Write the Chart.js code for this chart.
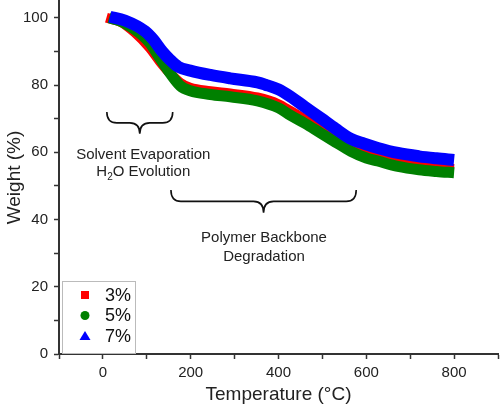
<!DOCTYPE html>
<html>
<head>
<meta charset="utf-8">
<script src="https://cdn.jsdelivr.net/npm/chart.js@4"></script>
<style>
  html, body { margin: 0; padding: 0; background: #fff; }
  #wrap { width: 500px; height: 411px; }
</style>
</head>
<body>
<div id="wrap"><canvas id="tgaChart" width="500" height="411"></canvas></div>
<script>
// TGA curves (temperature in °C, weight in %)
const seriesNames = ["3%", "5%", "7%"];
const seriesColors = ["#ff0000", "#008000", "#0000ff"];

const temp3 = [8, 40, 73, 107, 130, 153, 176, 199, 245, 290, 352, 400, 427, 460, 496, 530, 565, 600, 626, 672, 720, 760, 800];
const weight3 = [100, 98.8, 95.6, 91, 87, 83.5, 80.7, 79.2, 78.2, 77.5, 76.3, 74.3, 72.3, 69.8, 67, 64.2, 61.6, 59.4, 58.4, 56.8, 55.8, 55.3, 55];

const temp5 = [14, 40, 73, 90, 107, 130, 153, 176, 199, 245, 290, 352, 400, 427, 460, 496, 530, 565, 600, 626, 672, 720, 760, 800];
const weight5 = [100, 99, 96.5, 94.8, 92.5, 88, 83.5, 79.8, 78.3, 77.2, 76.5, 75.3, 73.2, 71, 68.6, 65.7, 63, 60.3, 58.3, 57.4, 55.8, 54.8, 54.3, 53.9];

const temp7 = [16, 50, 96, 115, 135, 153, 172, 199, 245, 290, 352, 370, 400, 427, 460, 496, 530, 565, 594, 626, 672, 720, 760, 800];
const weight7 = [100.3, 99.2, 96, 93.5, 90, 87.5, 85.4, 84.3, 83, 82, 80.8, 80.1, 78.7, 76.6, 73.5, 70.2, 67, 64, 62.6, 61.3, 59.8, 58.8, 58.2, 57.7];

const xTicksMajor = [0, 200, 400, 600, 800];
const yTicksMajor = [0, 20, 40, 60, 80, 100];

const toPoints = (xs, ys) => xs.map((x, i) => ({ x: x, y: ys[i] }));

// braces, annotation text and the boxed legend
const extrasPlugin = {
  id: "extras",
  afterDraw(chart) {
    const ctx = chart.ctx;
    const xs = chart.scales.x, ys = chart.scales.y;
    const px = v => xs.getPixelForValue(v);
    const py = v => ys.getPixelForValue(v);

    const brace = (t1, t2, wTop, wTip) => {
      const x1 = px(t1), x2 = px(t2), yTop = py(wTop), yTip = py(wTip);
      const mid = (x1 + x2) / 2, ym = (yTop + yTip) / 2, r = 10;
      ctx.beginPath();
      ctx.moveTo(x1, yTop);
      ctx.quadraticCurveTo(x1, ym, x1 + r, ym);
      ctx.lineTo(mid - r, ym);
      ctx.quadraticCurveTo(mid, ym, mid, yTip);
      ctx.quadraticCurveTo(mid, ym, mid + r, ym);
      ctx.lineTo(x2 - r, ym);
      ctx.quadraticCurveTo(x2, ym, x2, yTop);
      ctx.stroke();
    };

    ctx.save();
    ctx.strokeStyle = "#111";
    ctx.lineWidth = 1.6;
    brace(9, 159, 72, 65.5);
    brace(155, 577, 48.8, 42);

    ctx.fillStyle = "#222";
    ctx.font = "15px 'Liberation Sans', Arial, sans-serif";
    ctx.textAlign = "center";
    ctx.textBaseline = "middle";
    ctx.fillText("Solvent Evaporation", px(92), py(59.3));

    // H2O with a real subscript 2
    const yH = py(54.1);
    const partA = "H", partB = "2", partC = "O Evolution";
    const wA = ctx.measureText(partA).width;
    const wC = ctx.measureText(partC).width;
    ctx.font = "10px 'Liberation Sans', Arial, sans-serif";
    const wB = ctx.measureText(partB).width;
    let x0 = px(92) - (wA + wB + wC) / 2;
    ctx.textAlign = "left";
    ctx.font = "15px 'Liberation Sans', Arial, sans-serif";
    ctx.fillText(partA, x0, yH);
    ctx.font = "10px 'Liberation Sans', Arial, sans-serif";
    ctx.fillText(partB, x0 + wA, yH + 5);
    ctx.font = "15px 'Liberation Sans', Arial, sans-serif";
    ctx.fillText(partC, x0 + wA + wB, yH);

    ctx.textAlign = "center";
    ctx.fillText("Polymer Backbone", px(367), py(34.5));
    ctx.fillText("Degradation", px(367), py(29));

    // legend box in the lower left corner of the plot
    const area = chart.chartArea;
    const bx = area.left + 3, by = area.bottom - 73, bw = 73, bh = 73;
    ctx.strokeStyle = "#bbbbbb";
    ctx.lineWidth = 1;
    ctx.strokeRect(bx + 0.5, by + 0.5, bw, bh - 1);

    const styles = ["rect", "circle", "triangle"];
    ctx.font = "18px 'Liberation Sans', Arial, sans-serif";
    ctx.textAlign = "left";
    ctx.textBaseline = "middle";
    seriesNames.forEach((name, i) => {
      const mx = bx + 23, my = by + 14 + i * 20.5;
      ctx.fillStyle = seriesColors[i];
      ctx.beginPath();
      if (styles[i] === "rect") {
        ctx.rect(mx - 4, my - 4, 8, 8);
      } else if (styles[i] === "circle") {
        ctx.arc(mx, my, 4.5, 0, Math.PI * 2);
      } else {
        ctx.moveTo(mx, my - 5);
        ctx.lineTo(mx + 5.5, my + 4);
        ctx.lineTo(mx - 5.5, my + 4);
        ctx.closePath();
      }
      ctx.fill();
      ctx.fillStyle = "#111";
      ctx.fillText(name, bx + 43, my + 1);
    });
    ctx.restore();
  }
};

const tickFont = { family: "'Liberation Sans', Arial, sans-serif", size: 15 };
const titleFont = { family: "'Liberation Sans', Arial, sans-serif", size: 19 };

const chart = new Chart(document.getElementById("tgaChart"), {
  type: "line",
  data: {
    datasets: [
      { label: seriesNames[0], data: toPoints(temp3, weight3), borderColor: seriesColors[0], borderWidth: 10, order: 3 },
      { label: seriesNames[1], data: toPoints(temp5, weight5), borderColor: seriesColors[1], borderWidth: 11, order: 2 },
      { label: seriesNames[2], data: toPoints(temp7, weight7), borderColor: seriesColors[2], borderWidth: 12, order: 1 }
    ]
  },
  options: {
    responsive: false,
    animation: false,
    elements: {
      point: { radius: 0 },
      line: { cubicInterpolationMode: "monotone", fill: false, borderCapStyle: "butt", borderJoinStyle: "round" }
    },
    layout: { padding: { top: 1, right: 2, left: 0, bottom: 0 } },
    plugins: {
      legend: { display: false },
      tooltip: { enabled: false }
    },
    scales: {
      x: {
        type: "linear",
        min: -100,
        max: 900,
        afterFit: s => {
          s.height = 57;
          s.paddingLeft = 0;
          s.paddingRight = 0;
        },
        afterBuildTicks: s => {
          s.ticks = [];
          for (let v = -100; v <= 900; v += 100) s.ticks.push({ value: v });
        },
        ticks: {
          autoSkip: false,
          maxRotation: 0,
          padding: 5,
          color: "#222",
          font: tickFont,
          callback: v => (xTicksMajor.includes(v) ? v : "")
        },
        grid: { drawOnChartArea: false, tickLength: 5, tickColor: "#333", tickWidth: 1.5 },
        border: { color: "#333", width: 2 },
        title: { display: true, text: "Temperature (°C)", color: "#222", font: titleFont, padding: { top: 0, bottom: 5 } }
      },
      y: {
        min: 0,
        max: 105,
        afterFit: s => {
          s.width = 59;
          s.paddingTop = 0;
          s.paddingBottom = 0;
        },
        afterBuildTicks: s => {
          s.ticks = [];
          for (let v = 0; v <= 100; v += 10) s.ticks.push({ value: v });
        },
        ticks: {
          padding: 6,
          color: "#222",
          font: tickFont,
          callback: v => (yTicksMajor.includes(v) ? v : "")
        },
        grid: { drawOnChartArea: false, tickLength: 5, tickColor: "#333", tickWidth: 1.5 },
        border: { color: "#333", width: 2 },
        title: { display: true, text: "Weight (%)", color: "#222", font: titleFont, padding: { top: 3, bottom: 0 } }
      }
    }
  },
  plugins: [extrasPlugin]
});
</script>
</body>
</html>
